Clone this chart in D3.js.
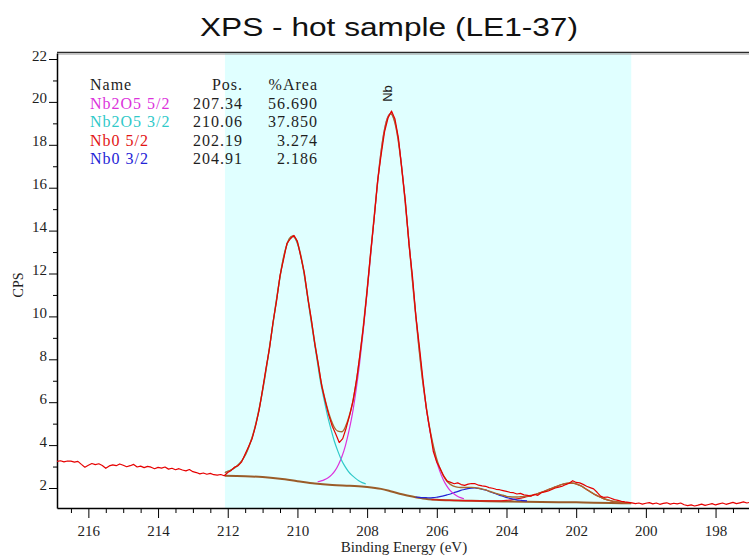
<!DOCTYPE html>
<html>
<head>
<meta charset="utf-8">
<script src="https://cdn.jsdelivr.net/npm/d3@7"></script>
<style>
  html, body { margin: 0; padding: 0; background: #fff; }
  svg { display: block; }
</style>
</head>
<body>
<svg id="chart" width="749" height="558"></svg>
<script>
// ---------- data: Nb 3d region, [binding energy (eV), CPS] ----------
const measured = [
  [216.9,3.24],[216.8,3.27],[216.7,3.22],[216.6,3.26],[216.5,3.25],[216.4,3.21],[216.3,3.24],[216.2,3.10],[216.1,2.97],[216.0,3.06],
  [215.9,3.14],[215.8,3.09],[215.7,3.13],[215.6,3.05],[215.5,2.92],[215.4,3.03],[215.3,3.08],[215.2,3.04],[215.1,3.12],[215.0,3.06],
  [214.9,2.99],[214.8,3.04],[214.7,3.10],[214.6,2.98],[214.5,3.02],[214.4,2.95],[214.3,3.01],[214.2,2.97],[214.1,2.90],[214.0,2.96],
  [213.9,2.93],[213.8,2.98],[213.7,2.88],[213.6,2.92],[213.5,2.85],[213.4,2.90],[213.3,2.84],[213.2,2.80],[213.1,2.86],[213.0,2.76],
  [212.9,2.72],[212.8,2.66],[212.7,2.70],[212.6,2.64],[212.5,2.68],[212.4,2.62],[212.3,2.60],[212.2,2.63],[212.1,2.57],
  [212.0,2.72],[211.9,2.82],[211.8,2.98],[211.7,3.04],[211.6,3.22],[211.5,3.58],[211.4,3.93],[211.3,4.30],[211.2,4.90],[211.1,5.62],
  [211.0,6.60],[210.9,7.60],[210.8,8.52],[210.7,9.74],[210.6,10.70],[210.5,11.90],[210.4,12.64],[210.3,13.40],[210.2,13.62],[210.1,13.78],
  [210.0,13.50],[209.9,12.76],[209.8,12.02],[209.7,10.84],[209.6,9.86],[209.5,8.70],[209.4,7.78],[209.3,6.74],[209.2,6.04],[209.1,5.40],
  [209.0,4.88],[208.9,4.52],[208.8,4.12],[208.7,4.30],[208.6,4.80],[208.5,5.40],[208.4,6.10],[208.3,7.06],[208.2,8.30],[208.1,9.60],
  [208.0,11.20],[207.9,12.96],[207.8,14.52],[207.7,16.30],[207.6,17.50],[207.5,18.60],[207.4,19.25],[207.3,19.58],[207.2,19.20],[207.1,18.30],
  [207.0,16.80],[206.9,15.35],[206.8,13.38],[206.7,11.90],[206.6,10.02],[206.5,8.60],[206.4,7.10],[206.3,5.70],[206.2,4.72],[206.1,3.70],
  [206.0,3.20],[205.9,2.90],[205.8,2.55],[205.7,2.32],[205.6,2.26],[205.5,2.20],[205.4,2.24],[205.3,2.16],[205.2,2.12],[205.1,2.18],
  [205.0,2.21],[204.9,2.20],[204.8,2.13],[204.7,2.10],[204.6,2.08],[204.5,2.02],[204.4,1.99],[204.3,1.94],[204.2,1.92],[204.1,1.88],
  [204.0,1.84],[203.9,1.80],[203.8,1.78],[203.7,1.72],[203.6,1.75],[203.5,1.68],[203.4,1.66],[203.3,1.62],[203.2,1.70],[203.1,1.66],
  [203.0,1.78],[202.9,1.82],[202.8,1.86],[202.7,1.93],[202.6,2.00],[202.5,2.04],[202.4,2.08],[202.3,2.16],[202.2,2.22],[202.1,2.34],
  [202.0,2.26],[201.9,2.24],[201.8,2.17],[201.7,2.08],[201.6,2.02],[201.5,1.96],[201.4,1.80],[201.3,1.62],[201.2,1.56],[201.1,1.58],
  [201.0,1.52],[200.9,1.46],[200.8,1.42],[200.7,1.38],[200.6,1.35],[200.5,1.33],[200.4,1.31],[200.3,1.27],[200.2,1.30],[200.1,1.25],
  [200.0,1.29],[199.9,1.32],[199.8,1.26],[199.7,1.30],[199.6,1.24],[199.5,1.28],[199.4,1.31],[199.3,1.25],[199.2,1.29],[199.1,1.26],
  [199.0,1.30],[198.9,1.22],[198.8,1.18],[198.7,1.21],[198.6,1.16],[198.5,1.20],[198.4,1.25],[198.3,1.19],[198.2,1.23],[198.1,1.27],
  [198.0,1.21],[197.9,1.26],[197.8,1.30],[197.7,1.24],[197.6,1.28],[197.5,1.33],[197.4,1.27],[197.3,1.31],[197.2,1.35],[197.1,1.30],
  [197.0,1.34]
];

// fitted envelope (sum of components)
const envelope = [
  [212.08,2.71],[212.04,2.75],[211.94,2.81],[211.84,2.90],[211.74,3.02],[211.64,3.18],[211.54,3.41],[211.44,3.74],[211.34,4.17],[211.24,4.70],
  [211.14,5.37],[211.04,6.18],[210.94,7.12],[210.84,8.14],[210.74,9.24],[210.64,10.35],[210.54,11.43],[210.44,12.41],[210.34,13.15],[210.24,13.60],
  [210.14,13.75],[210.04,13.59],[209.94,13.10],[209.84,12.33],[209.74,11.31],[209.64,10.21],[209.54,9.16],[209.44,8.13],[209.34,7.11],[209.24,6.35],
  [209.14,5.71],[209.04,5.19],[208.94,4.82],[208.84,4.65],[208.72,4.62],[208.62,4.86],[208.52,5.32],[208.42,5.95],[208.32,6.87],[208.22,8.00],
  [208.12,9.37],[208.02,10.91],[207.92,12.57],[207.82,14.28],[207.72,15.92],[207.62,17.41],[207.52,18.54],[207.42,19.23],[207.32,19.45],[207.22,19.13],
  [207.12,18.35],[207.02,17.11],[206.92,15.55],[206.82,13.82],[206.72,12.04],[206.62,10.29],[206.52,8.66],[206.42,7.18],[206.32,5.98],[206.22,4.93],
  [206.12,4.12],[206.02,3.45],[205.92,2.95],[205.82,2.60],[205.72,2.34],[205.62,2.18],[205.52,2.09],[205.42,2.04],[205.32,2.02],[205.22,2.02],
  [205.1,2.03],[205.0,2.03],[204.9,2.02],[204.8,1.99],[204.7,1.95],[204.6,1.91],[204.5,1.85],[204.4,1.80],[204.3,1.75],[204.2,1.70],
  [204.1,1.66],[204.0,1.61],[203.9,1.59],[203.8,1.58],[203.7,1.58],[203.6,1.59],[203.5,1.60],[203.4,1.62],[203.3,1.65],[203.2,1.69],
  [203.1,1.74],[203.0,1.80],[202.9,1.85],[202.8,1.92],[202.7,1.98],[202.6,2.05],[202.5,2.11],[202.4,2.17],[202.3,2.21],[202.2,2.23],
  [202.1,2.23],[202.0,2.19],[201.9,2.12],[201.8,2.04],[201.7,1.93],[201.6,1.83],[201.5,1.73],[201.4,1.65],[201.3,1.57],[201.2,1.50],
  [201.1,1.45],[201.0,1.40],[200.9,1.37],[200.8,1.35],[200.7,1.33],[200.6,1.31],[200.5,1.30],[200.42,1.30]
];

// Shirley background under the fit region
const background = [
  [212.08,2.57],[211.5,2.55],[211.0,2.51],[210.5,2.43],[210.0,2.32],[209.5,2.21],[209.0,2.14],[208.5,2.10],[208.0,2.05],[207.6,1.96],
  [207.3,1.84],[207.0,1.71],[206.7,1.60],[206.4,1.51],[206.0,1.45],[205.5,1.42],[205.0,1.40],[204.5,1.38],[204.0,1.37],[203.5,1.36],
  [203.0,1.35],[202.5,1.34],[202.0,1.33],[201.5,1.31],[201.0,1.30],[200.42,1.29]
];

// Nb2O5 3d5/2
const nb2o5_52 = [
  [209.42,2.29],[209.32,2.33],[209.22,2.39],[209.12,2.48],[209.02,2.61],[208.92,2.81],[208.82,3.10],[208.72,3.48],[208.62,3.99],[208.52,4.67],
  [208.42,5.48],[208.32,6.53],[208.22,7.75],[208.12,9.20],[208.02,10.79],[207.92,12.49],[207.82,14.22],[207.72,15.89],[207.62,17.40],[207.52,18.54],
  [207.42,19.24],[207.32,19.46],[207.22,19.16],[207.12,18.38],[207.02,17.15],[206.92,15.58],[206.82,13.86],[206.72,12.07],[206.62,10.32],[206.52,8.69],
  [206.42,7.20],[206.32,5.94],[206.22,4.87],[206.12,4.05],[206.02,3.34],[205.92,2.81],[205.82,2.41],[205.72,2.11],[205.62,1.89],[205.52,1.74],
  [205.42,1.63],[205.32,1.55],[205.22,1.50]
];

// Nb2O5 3d3/2
const nb2o5_32 = [
  [212.08,2.71],[212.04,2.75],[211.94,2.81],[211.84,2.90],[211.74,3.01],[211.64,3.18],[211.54,3.41],[211.44,3.73],[211.34,4.16],[211.24,4.69],
  [211.14,5.37],[211.04,6.18],[210.94,7.11],[210.84,8.13],[210.74,9.23],[210.64,10.35],[210.54,11.42],[210.44,12.40],[210.34,13.14],[210.24,13.59],
  [210.14,13.74],[210.04,13.55],[209.94,13.05],[209.84,12.27],[209.74,11.24],[209.64,10.13],[209.54,9.05],[209.44,8.01],[209.34,6.97],[209.24,6.16],
  [209.14,5.40],[209.04,4.76],[208.94,4.18],[208.84,3.72],[208.74,3.32],[208.64,3.02],[208.54,2.78],[208.44,2.60],[208.34,2.46],[208.24,2.34],
  [208.14,2.25],[208.04,2.19]
];

// Nb metal 3d5/2
const nb0_52 = [
  [206.15,1.46],[205.65,1.43],[205.15,1.41],[204.65,1.40],[204.35,1.40],[204.15,1.40],[203.95,1.43],[203.85,1.45],[203.75,1.48],[203.65,1.51],
  [203.55,1.54],[203.45,1.58],[203.35,1.62],[203.25,1.66],[203.15,1.71],[203.05,1.77],[202.95,1.83],[202.85,1.89],[202.75,1.96],[202.65,2.02],
  [202.55,2.08],[202.45,2.14],[202.35,2.19],[202.25,2.22],[202.15,2.23],[202.05,2.21],[201.95,2.16],[201.85,2.09],[201.75,1.98],[201.65,1.88],
  [201.55,1.78],[201.45,1.68],[201.35,1.60],[201.25,1.53],[201.15,1.47],[201.05,1.42],[200.95,1.38],[200.85,1.36],[200.75,1.33],[200.65,1.32],
  [200.55,1.31],[200.45,1.30]
];

// Nb metal 3d3/2
const nb0_32 = [
  [206.61,1.58],[206.51,1.56],[206.41,1.55],[206.31,1.55],[206.21,1.54],[206.11,1.55],[206.01,1.57],[205.91,1.60],[205.81,1.63],[205.71,1.68],
  [205.61,1.72],[205.51,1.78],[205.41,1.83],[205.31,1.89],[205.21,1.93],[205.11,1.97],[205.01,1.99],[204.91,2.00],[204.81,1.98],[204.71,1.95],
  [204.61,1.91],[204.51,1.85],[204.41,1.79],[204.31,1.73],[204.21,1.67],[204.11,1.62],[204.01,1.56],[203.91,1.52],[203.81,1.48],[203.71,1.45],
  [203.61,1.43],[203.51,1.41],[203.41,1.40]
];

// peak table
const peakNames = ["Nb2O5 5/2", "Nb2O5 3/2", "Nb0 5/2", "Nb0 3/2"];
const peakPositions = [207.34, 210.06, 202.19, 204.91];
const peakAreas = [56.690, 37.850, 3.274, 2.186];

const fitRegion = [212.08, 200.42];
const xTickLabels = [216, 214, 212, 210, 208, 206, 204, 202, 200, 198];
const yTickLabels = [2, 4, 6, 8, 10, 12, 14, 16, 18, 20, 22];

// ---------- styles ----------
const colors = {
  data: "#e60000",
  envelope: "#a9692f",
  background: "#9a5c28",
  nb2o5_52: "#dc32dc",
  nb2o5_32: "#30c9c9",
  nb0_52: "#e21414",
  nb0_32: "#2323d6",
  region: "#e0ffff",
  text: "#1e1e1e"
};
const peakColors = [colors.nb2o5_52, colors.nb2o5_32, colors.nb0_52, colors.nb0_32];

// ---------- layout ----------
const plotLeft = 57, plotRight = 749, plotTop = 53, plotBottom = 508;

const svg = d3.select("#chart");
const x = d3.scaleLinear().domain([216.9, 197.04]).range([plotLeft, plotRight]);
const y = d3.scaleLinear().domain([1.0676, 22.28]).range([plotBottom, plotTop]);

svg.append("defs").append("clipPath").attr("id", "plotClip")
  .append("rect").attr("x", plotLeft).attr("y", plotTop)
  .attr("width", plotRight - plotLeft).attr("height", plotBottom - plotTop);

// fit region shading
svg.append("rect")
  .attr("x", x(fitRegion[0])).attr("y", plotTop)
  .attr("width", x(fitRegion[1]) - x(fitRegion[0]))
  .attr("height", plotBottom - plotTop)
  .attr("fill", colors.region);

// title
svg.append("text")
  .attr("x", 200).attr("y", 36)
  .attr("textLength", 378).attr("lengthAdjust", "spacingAndGlyphs")
  .style("font-family", "'Liberation Sans', Arial, sans-serif")
  .style("font-size", "26px")
  .attr("fill", "#111")
  .text("XPS - hot sample (LE1-37)");

// top frame
svg.append("line").attr("x1", plotLeft).attr("x2", plotRight).attr("y1", 52.5).attr("y2", 52.5)
  .attr("stroke", "#2a2a2a").attr("stroke-width", 1.6);
svg.append("line").attr("x1", plotLeft).attr("x2", plotRight).attr("y1", 54.2).attr("y2", 54.2)
  .attr("stroke", "#a8a8a8").attr("stroke-width", 0.9);

// ---------- axes ----------
const serif = "'Liberation Serif', 'Times New Roman', serif";

const yMinor = d3.range(3, 22, 2);
const gyMinor = svg.append("g").attr("transform", `translate(${plotLeft},0)`)
  .call(d3.axisLeft(y).tickValues(yMinor).tickSize(4).tickFormat(""));
gyMinor.select(".domain").remove();

const gy = svg.append("g").attr("transform", `translate(${plotLeft},0)`)
  .call(d3.axisLeft(y).tickValues(yTickLabels).tickSize(8).tickSizeOuter(0).tickPadding(2));
gy.select(".domain").attr("stroke", "#000").attr("stroke-width", 1.5);
gy.selectAll("text")
  .attr("dy", "0.07em")
  .style("font-family", serif).style("font-size", "15px")
  .attr("fill", colors.text);

const xMinor = d3.range(197.5, 217, 0.5).filter(v => v % 2 !== 0);
const gxMinor = svg.append("g").attr("transform", `translate(0,${plotBottom})`)
  .call(d3.axisBottom(x).tickValues(xMinor).tickSize(5).tickFormat(""));
gxMinor.select(".domain").remove();

const gx = svg.append("g").attr("transform", `translate(0,${plotBottom})`)
  .call(d3.axisBottom(x).tickValues(xTickLabels).tickSize(10).tickSizeOuter(0));
gx.select(".domain").attr("stroke", "#000").attr("stroke-width", 1.5);
gx.selectAll("text")
  .attr("y", 17).attr("dy", "0.71em")
  .style("font-family", serif).style("font-size", "15px")
  .attr("fill", colors.text);

[gy, gx, gyMinor, gxMinor].forEach(g => g.selectAll(".tick line").attr("stroke", "#000"));

// axis titles
svg.append("text")
  .attr("transform", "translate(23,285) rotate(-90)")
  .attr("text-anchor", "middle")
  .style("font-family", serif).style("font-size", "14px")
  .attr("fill", colors.text)
  .text("CPS");

svg.append("text")
  .attr("x", 404).attr("y", 552)
  .attr("text-anchor", "middle")
  .style("font-family", serif).style("font-size", "15px")
  .attr("fill", colors.text)
  .text("Binding Energy (eV)");

// ---------- curves ----------
const plot = svg.append("g").attr("clip-path", "url(#plotClip)");
const lineSmooth = d3.line().x(d => x(d[0])).y(d => y(d[1])).curve(d3.curveMonotoneX);
const lineRaw = d3.line().x(d => x(d[0])).y(d => y(d[1]));

function draw(data, color, width, gen) {
  plot.append("path").datum(data)
    .attr("d", gen)
    .attr("fill", "none")
    .attr("stroke", color)
    .attr("stroke-width", width)
    .attr("stroke-linejoin", "round");
}

draw(background, colors.background, 2, lineSmooth);
draw(nb0_52, colors.nb0_52, 1.2, lineSmooth);
draw(nb0_32, colors.nb0_32, 1.2, lineSmooth);
draw(nb2o5_52, colors.nb2o5_52, 1.2, lineSmooth);
draw(nb2o5_32, colors.nb2o5_32, 1.2, lineSmooth);
draw(envelope, colors.envelope, 1.4, lineSmooth);
draw(measured, colors.data, 1.2, lineRaw);

// peak marker
svg.append("text")
  .attr("transform", "translate(392,93.5) rotate(-90)")
  .attr("text-anchor", "middle")
  .style("font-family", "'Liberation Sans', Arial, sans-serif")
  .style("font-size", "13px")
  .attr("fill", colors.text)
  .text("Nb");

// ---------- peak table ----------
const table = svg.append("g")
  .style("font-family", serif)
  .style("font-size", "16px")
  .style("letter-spacing", "1px");
const rowY = d3.scaleLinear().domain([0, 1]).range([90, 108.5]);
const colName = 90, colPos = 243, colArea = 318;

table.append("text").attr("x", colName).attr("y", rowY(0)).attr("fill", colors.text).text("Name");
table.append("text").attr("x", colPos).attr("y", rowY(0)).attr("text-anchor", "end").attr("fill", colors.text).text("Pos.");
table.append("text").attr("x", colArea).attr("y", rowY(0)).attr("text-anchor", "end").attr("fill", colors.text).text("%Area");

peakNames.forEach((name, i) => {
  const yy = rowY(i + 1);
  table.append("text").attr("x", colName).attr("y", yy).attr("fill", peakColors[i]).text(name);
  table.append("text").attr("x", colPos).attr("y", yy).attr("text-anchor", "end")
    .attr("fill", colors.text).text(peakPositions[i].toFixed(2));
  table.append("text").attr("x", colArea).attr("y", yy).attr("text-anchor", "end")
    .attr("fill", colors.text).text(peakAreas[i].toFixed(3));
});
</script>
</body>
</html>
